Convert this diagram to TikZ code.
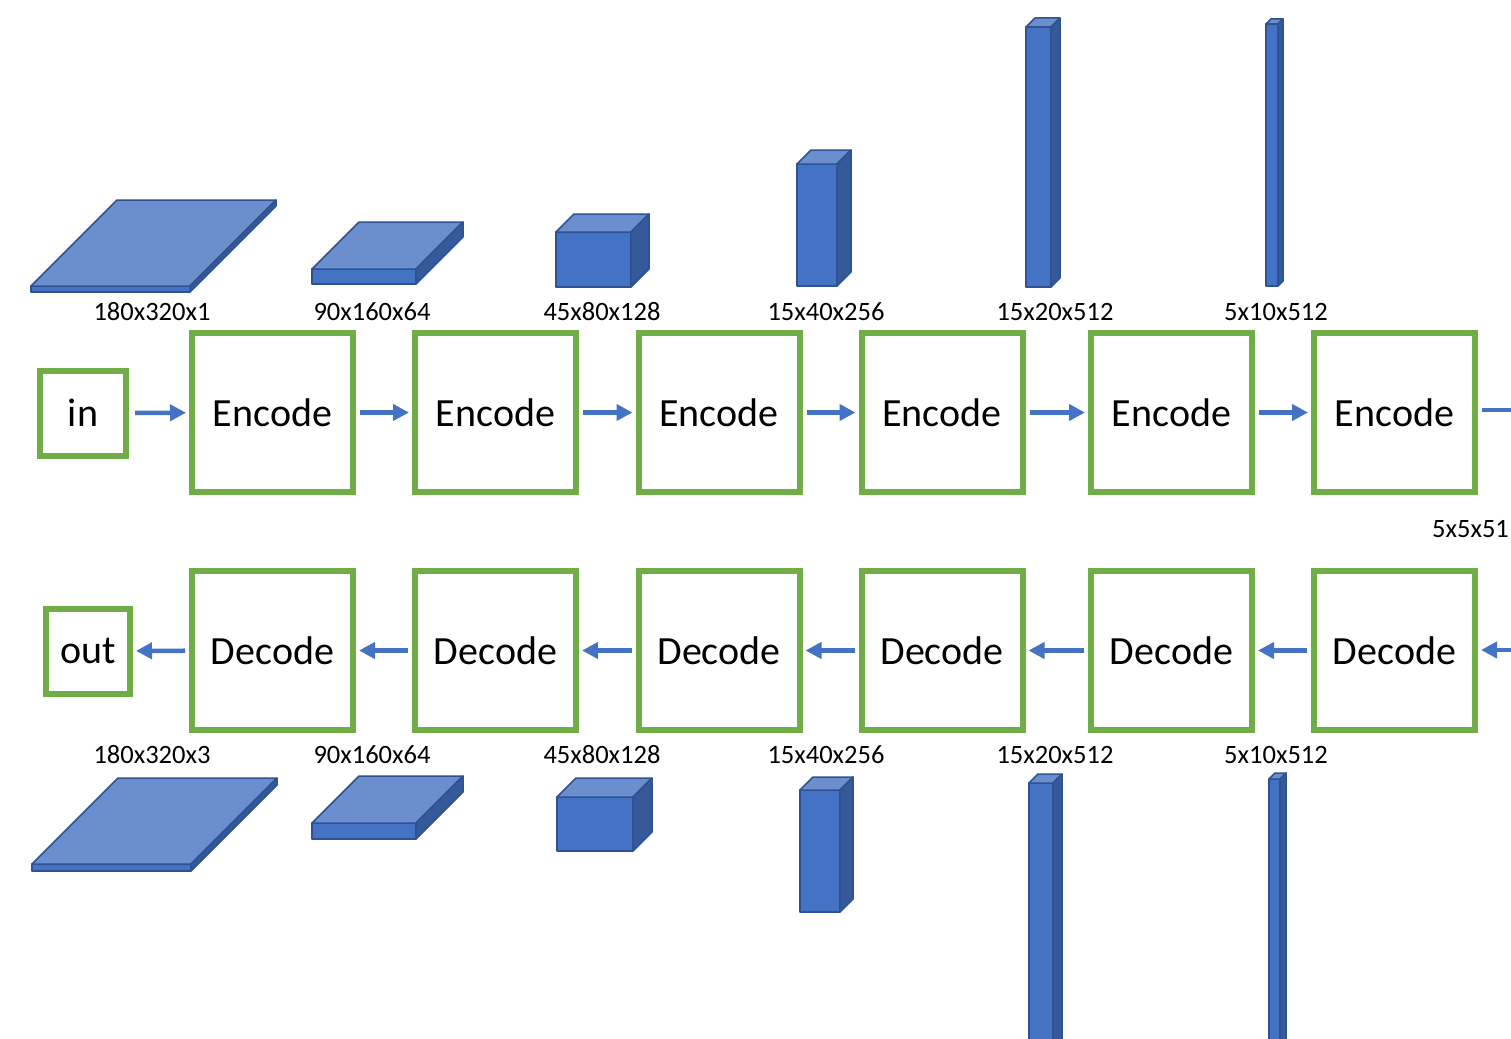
\documentclass[tikz,border=0pt]{standalone}
\usepackage{fontspec}
\setmainfont{Carlito}
\usetikzlibrary{arrows.meta}
\definecolor{boxgreen}{HTML}{70AD47}
\definecolor{arrowblue}{HTML}{4472C4}
\definecolor{cubefront}{HTML}{4472C4}
\definecolor{cubetop}{HTML}{6B8ECF}
\definecolor{cubeside}{HTML}{36599A}
\definecolor{cubeedge}{HTML}{2F5291}
\newcommand\blockcube[5]{%
  \filldraw[cubeline, fill=cubefront] (#1,#2) rectangle ++(#3,#4);
  \filldraw[cubeline, fill=cubetop] (#1,#2) -- ++(#5,-#5) -- ++(#3,0) -- ++(-#5,#5) -- cycle;
  \filldraw[cubeline, fill=cubeside] (#1+#3,#2) -- ++(#5,-#5) -- ++(0,#4) -- ++(-#5,#5) -- cycle;
}
\tikzset{
  cubeline/.style={draw=cubeedge, line width=1.5pt, line join=round},
  stagebox/.style={draw=boxgreen, line width=6pt, minimum width=161pt, minimum height=159pt, inner sep=0pt, font=\fontsize{40}{48}\selectfont},
  iobox/.style={draw=boxgreen, line width=6pt, minimum width=86pt, minimum height=85pt, inner sep=0pt, font=\fontsize{40}{48}\selectfont},
  dimlabel/.style={inner sep=0pt, font=\fontsize{26.5}{32}\selectfont},
  flow/.style={draw=arrowblue, line width=4.5pt, -{Triangle[length=16pt,width=16pt]}, shorten <=4pt, shorten >=3pt},
  flowplain/.style={draw=arrowblue, line width=4.5pt, shorten <=4pt}
}
\begin{document}
\begin{tikzpicture}[x=1pt, y=-1pt]
\useasboundingbox (0,0) rectangle (1511,1038);
\clip (0,0) rectangle (1511,1038);
% top feature maps
\blockcube{31}{286}{159}{6}{86}
\blockcube{312}{269}{104}{15}{47}
\blockcube{556}{232}{75}{55}{18}
\blockcube{797}{164}{40}{122}{14}
\blockcube{1026}{27}{25}{260}{9}
\blockcube{1266}{24}{12}{262}{5}
% bottom feature maps
\blockcube{32}{864}{159}{7}{86}
\blockcube{312}{823}{104}{16}{47}
\blockcube{557}{797}{76}{54}{19}
\blockcube{800}{790}{40}{122}{13}
\blockcube{1029}{783}{24}{300}{9}
\blockcube{1269}{779}{11}{300}{6}
% labels
\node[dimlabel] (lt1) at (152,312) {180x320x1};
\node[dimlabel] (lt2) at (372,312) {90x160x64};
\node[dimlabel] (lt3) at (602,312) {45x80x128};
\node[dimlabel] (lt4) at (826,312) {15x40x256};
\node[dimlabel] (lt5) at (1055,312) {15x20x512};
\node[dimlabel] (lt6) at (1276,312) {5x10x512};
\node[dimlabel] (lb1) at (152,755) {180x320x3};
\node[dimlabel] (lb2) at (372,755) {90x160x64};
\node[dimlabel] (lb3) at (602,755) {45x80x128};
\node[dimlabel] (lb4) at (826,755) {15x40x256};
\node[dimlabel] (lb5) at (1055,755) {15x20x512};
\node[dimlabel] (lb6) at (1276,755) {5x10x512};
\node[dimlabel, anchor=west] (lmid) at (1432,529) {5x5x51};
% boxes
\node[iobox] (in) at (83,413) {in};
\node[iobox, minimum width=84pt] (out) at (88,651) {out};
\node[stagebox] (e1) at (272.5,412.5) {Encode};
\node[stagebox] (e2) at (495.5,412.5) {Encode};
\node[stagebox] (e3) at (719,412.5) {Encode};
\node[stagebox] (e4) at (942,412.5) {Encode};
\node[stagebox] (e5) at (1171.5,412.5) {Encode};
\node[stagebox] (e6) at (1394.5,412.5) {Encode};
\node[stagebox] (d1) at (272.5,650.5) {Decode};
\node[stagebox] (d2) at (495.5,650.5) {Decode};
\node[stagebox] (d3) at (719,650.5) {Decode};
\node[stagebox] (d4) at (942,650.5) {Decode};
\node[stagebox] (d5) at (1171.5,650.5) {Decode};
\node[stagebox] (d6) at (1394.5,650.5) {Decode};
\coordinate (redgeTop) at (1515,410);
\coordinate (redgeBot) at (1515,650);
% arrows
\draw[flow, shorten <=6pt] (in) -- (e1);
\draw[flow] (e1) -- (e2);
\draw[flow] (e2) -- (e3);
\draw[flow] (e3) -- (e4);
\draw[flow] (e4) -- (e5);
\draw[flow] (e5) -- (e6);
\draw[flowplain] (e6.east |- redgeTop) -- (redgeTop);
\draw[flow, shorten <=0pt] (redgeBot) -- (d6.east |- redgeBot);
\draw[flow] (d6) -- (d5);
\draw[flow] (d5) -- (d4);
\draw[flow] (d4) -- (d3);
\draw[flow] (d3) -- (d2);
\draw[flow] (d2) -- (d1);
\draw[flow] (d1) -- (out);
\end{tikzpicture}
\end{document}
